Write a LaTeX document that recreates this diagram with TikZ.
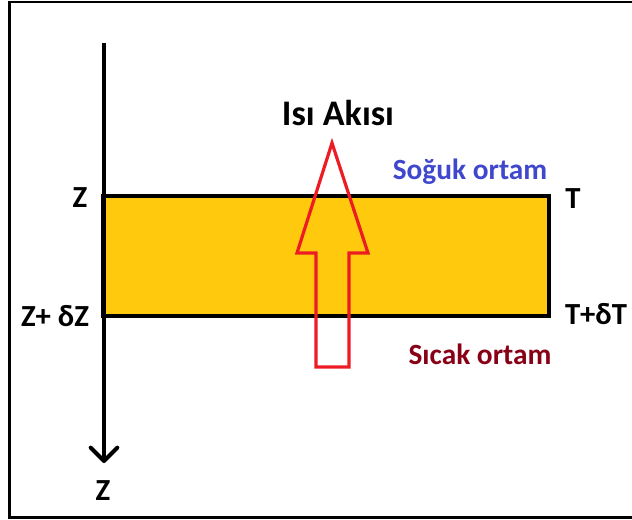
\documentclass[tikz,border=0pt]{standalone}
\usepackage{fontspec}
\setmainfont{Carlito}
\usepackage{tikz}
\usetikzlibrary{arrows.meta, positioning}
\definecolor{slabyellow}{RGB}{255,201,14}
\definecolor{flowred}{RGB}{237,28,36}
\definecolor{coldblue}{RGB}{63,72,204}
\definecolor{hotred}{RGB}{136,0,21}

\begin{document}
\begin{tikzpicture}[
  x=0.75pt, y=-0.75pt,
  lbl/.style={inner sep=0pt, font=\fontsize{23}{27}\selectfont\bfseries},
  medium/.style={inner sep=0pt, font=\fontsize{22}{26}\selectfont\bfseries},
  axis/.style={line width=2.4pt, -{Straight Barb[length=10pt, width=20pt, line width=3pt, round]}},
  layer/.style={draw=black, fill=slabyellow, line width=3pt},
  flow/.style={draw=flowred, line width=2.4pt, line join=miter}
]
\useasboundingbox (0,0) rectangle (632,519);

% frame
\draw[line width=1.6pt] (632,2) -- (9.5,2) -- (9.5,517.5) -- (632,517.5);

% slab
\draw[layer] (103,196) rectangle (548.5,315.5);

% z axis
\coordinate (axtop) at (104,43);
\coordinate (axbot) at (104,463);
\draw[axis] (axtop) -- (axbot);

% labels
\node[lbl] (zax) at (103,491) {Z};
\node[lbl] (ztop) at (80,198) {Z};
\node[lbl] (zbot) at (55,316) {Z+ δZ};
\node[lbl] (ttop) at (573,199) {T};
\node[lbl] (tbot) at (596,314) {T+δT};
\node[medium, text=coldblue] (cold) at (470,172) {Soğuk ortam};
\node[medium, text=hotred] (hot) at (480,354) {Sıcak ortam};
\node[inner sep=0pt, font=\fontsize{27}{31}\selectfont\bfseries] (flowlbl) at (338,113) {Isı Akısı};

% heat flow arrow
\draw[flow] (332,143) -- (368,253) -- (349,253) -- (349,367) -- (316,367)
  -- (316,253) -- (297,253) -- cycle;

\end{tikzpicture}
\end{document}
